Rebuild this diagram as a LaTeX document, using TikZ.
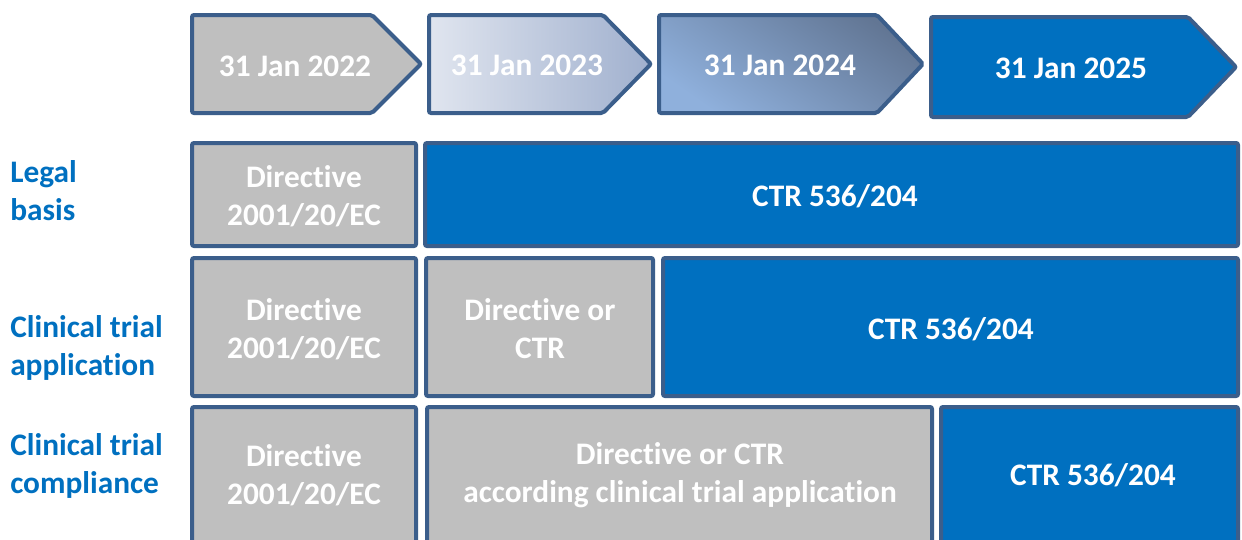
\documentclass[tikz,border=0pt]{standalone}
\usepackage{fontspec}
\setmainfont{Carlito}[RawFeature={-liga;-clig;-calt;-dlig}]
\definecolor{edge}{RGB}{59,94,139}
\definecolor{cellgrey}{RGB}{191,191,191}
\definecolor{cellblue}{RGB}{0,112,192}
\definecolor{fadeL}{RGB}{224,229,239}
\definecolor{fadeR}{RGB}{160,176,206}
\definecolor{steelLo}{RGB}{143,176,220}
\definecolor{steelHi}{RGB}{98,118,148}
\tikzset{
  frame/.style={draw=edge, line width=3pt, rounded corners=1.5pt},
  celltext/.style={text=white, font=\bfseries\fontsize{23.5}{28.5}\selectfont, align=center, inner sep=0pt},
  rowlabel/.style={text=cellblue, font=\bfseries\fontsize{23.5}{28.5}\selectfont, align=left, anchor=west, inner sep=0pt},
}
\begin{document}
\begin{tikzpicture}[x=0.75pt,y=-0.75pt]
\useasboundingbox (0,0) rectangle (1242,539);
\clip (0,0) rectangle (1242,539);

% timeline chevrons
\path[frame, fill=cellgrey] (192,15) -- (372,15) -- (421,64) -- (372,113) -- (192,113) -- cycle;
\node[celltext] (d22) at (295,66) {31 Jan 2022};
\path[frame, left color=fadeL, right color=fadeR] (429,15) -- (603,15) -- (651,64) -- (603,113) -- (429,113) -- cycle;
\node[celltext] (d23) at (527,65) {31 Jan 2023};
\path[frame, shading=axis, top color=steelHi, bottom color=steelLo, shading angle=-35] (659,15) -- (877,15) -- (923,64) -- (877,113) -- (659,113) -- cycle;
\node[celltext] (d24) at (780,65) {31 Jan 2024};
\path[frame, fill=cellblue] (931,17) -- (1188,17) -- (1236,67) -- (1188,117) -- (931,117) -- cycle;
\node[celltext] (d25) at (1071,68) {31 Jan 2025};

% row labels
\node[rowlabel] (legal) at (10,191) {Legal\\basis};
\node[rowlabel] (cta) at (10,348) {Clinical trial\\application};
\node[rowlabel] (ctc) at (10,466) {Clinical trial\\compliance};

% legal basis row
\draw[frame, fill=cellgrey] (192,143) rectangle (416,246);
\node[celltext] (lbA) at (304,196) {Directive\\2001/20/EC};
\draw[frame, fill=cellblue] (425,143) rectangle (1238,246);
\node[celltext] (lbB) at (835,196) {CTR 536/204};

% application row
\draw[frame, fill=cellgrey] (192,258) rectangle (416,396);
\node[celltext] (apA) at (304,329) {Directive\\2001/20/EC};
\draw[frame, fill=cellgrey] (426,258) rectangle (653,396);
\node[celltext] (apB) at (540,329) {Directive or\\CTR};
\draw[frame, fill=cellblue] (663,258) rectangle (1238,396);
\node[celltext] (apC) at (951,329) {CTR 536/204};

% compliance row
\draw[frame, fill=cellgrey] (192,407) rectangle (416,570);
\node[celltext] (coA) at (304,475) {Directive\\2001/20/EC};
\draw[frame, fill=cellgrey] (427,407) rectangle (932,570);
\node[celltext] (coB) at (680,475) {Directive or CTR\\according clinical trial application};
\draw[frame, fill=cellblue] (941,407) rectangle (1238,570);
\node[celltext] (coC) at (1093,475) {CTR 536/204};
\end{tikzpicture}
\end{document}
